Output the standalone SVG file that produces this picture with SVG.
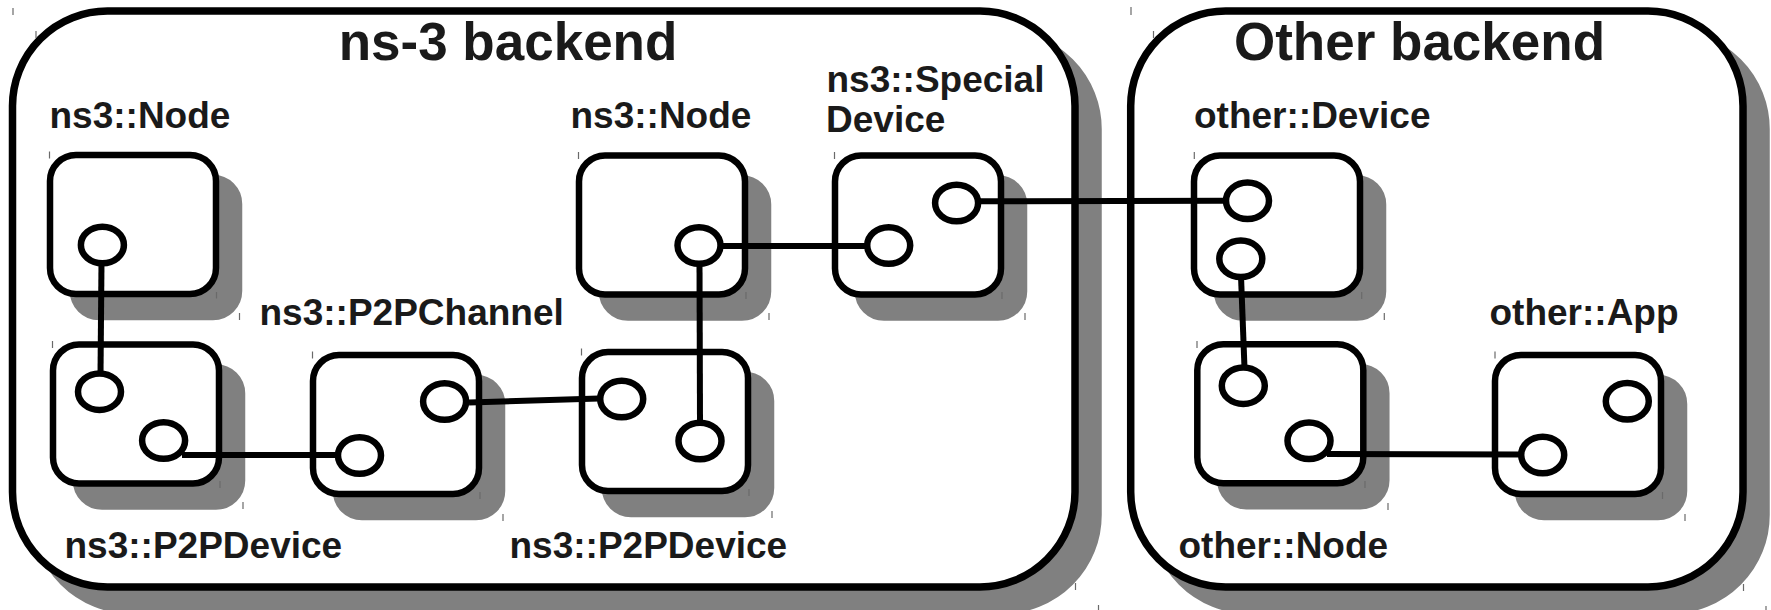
<svg xmlns="http://www.w3.org/2000/svg" width="1771" height="610" viewBox="0 0 1771 610">
  <style>
    .backend { fill: #ffffff; stroke: #000000; stroke-width: 7.5; }
    .backend-shadow { fill: #808080; stroke: #808080; stroke-width: 7.5; }
    .box { fill: #ffffff; stroke: #000000; stroke-width: 6.5; }
    .box-shadow { fill: #808080; stroke: #808080; stroke-width: 6.5; }
    .port { fill: #ffffff; stroke: #000000; stroke-width: 6.5; }
    .link { stroke: #000000; stroke-width: 6; fill: none; }
    .tick { stroke: #6a6a6a; stroke-width: 1.2; }
    .title { font-family: "Liberation Sans", Arial, sans-serif; font-weight: bold; font-size: 53px; fill: #1a1a1a; text-anchor: middle; }
    .label { font-family: "Liberation Sans", Arial, sans-serif; font-weight: bold; font-size: 37px; fill: #1a1a1a; }
  </style>
  <defs>
    <rect id="box-shape" x="0" y="0" width="166" height="139" rx="26" ry="26"/>
  </defs>

  <rect width="1771" height="610" fill="#ffffff"/>

  <!-- backend containers -->
  <g id="ns3-backend">
    <rect class="backend-shadow" x="35.5" y="34" width="1062.5" height="576" rx="95" ry="95"/>
    <rect class="backend" x="12.5" y="11" width="1062.5" height="576" rx="95" ry="95"/>
    <text class="title" x="508" y="60">ns-3 backend</text>
    <line class="tick" x1="13" y1="8" x2="13" y2="15"/>
    <line class="tick" x1="36" y1="31" x2="36" y2="38"/>
    <line class="tick" x1="1075.5" y1="583" x2="1075.5" y2="590"/>
    <line class="tick" x1="1098.5" y1="605" x2="1098.5" y2="610"/>
  </g>
  <g id="other-backend">
    <rect class="backend-shadow" x="1153.7" y="34" width="612.3" height="576" rx="95" ry="95"/>
    <rect class="backend" x="1130.7" y="11" width="612.3" height="576" rx="95" ry="95"/>
    <text class="title" x="1419.5" y="60">Other backend</text>
    <line class="tick" x1="1131" y1="7" x2="1131" y2="15"/>
    <line class="tick" x1="1153.5" y1="31" x2="1153.5" y2="38"/>
    <line class="tick" x1="1743.5" y1="584" x2="1743.5" y2="591"/>
    <line class="tick" x1="1766" y1="606" x2="1766" y2="610"/>
  </g>

  <!-- component boxes -->
  <g id="ns3-node-a">
    <use href="#box-shape" class="box-shadow" x="73" y="178"/>
    <use href="#box-shape" class="box" x="50" y="155"/>
    <text class="label" x="49.5" y="128">ns3::Node</text>
    <line class="tick" x1="49.5" y1="151.5" x2="49.5" y2="158.5"/>
    <line class="tick" x1="216.5" y1="292" x2="216.5" y2="298.5"/>
    <line class="tick" x1="239.5" y1="313" x2="239.5" y2="320"/>
  </g>
  <g id="ns3-p2pdevice-a">
    <use href="#box-shape" class="box-shadow" x="76" y="367.5"/>
    <use href="#box-shape" class="box" x="53" y="344.5"/>
    <text class="label" x="64.5" y="558">ns3::P2PDevice</text>
    <line class="tick" x1="52.5" y1="341" x2="52.5" y2="348"/>
    <line class="tick" x1="220" y1="481" x2="220" y2="488"/>
    <line class="tick" x1="243" y1="502" x2="243" y2="509"/>
  </g>
  <g id="ns3-p2pchannel">
    <use href="#box-shape" class="box-shadow" x="336" y="378"/>
    <use href="#box-shape" class="box" x="313" y="355"/>
    <text class="label" x="259.5" y="325">ns3::P2PChannel</text>
    <line class="tick" x1="312.5" y1="351.5" x2="312.5" y2="358.5"/>
    <line class="tick" x1="480" y1="492" x2="480" y2="499"/>
    <line class="tick" x1="503" y1="514" x2="503" y2="521"/>
  </g>
  <g id="ns3-node-b">
    <use href="#box-shape" class="box-shadow" x="602" y="178.5"/>
    <use href="#box-shape" class="box" x="579" y="155.5"/>
    <text class="label" x="570.5" y="128">ns3::Node</text>
    <line class="tick" x1="578.5" y1="152" x2="578.5" y2="159"/>
    <line class="tick" x1="746" y1="292" x2="746" y2="299"/>
    <line class="tick" x1="769" y1="313" x2="769" y2="320"/>
  </g>
  <g id="ns3-special-device">
    <use href="#box-shape" class="box-shadow" x="858" y="178.5"/>
    <use href="#box-shape" class="box" x="835" y="155.5"/>
    <text class="label" x="826.5" y="92">ns3::Special</text>
    <text class="label" x="826" y="132">Device</text>
    <line class="tick" x1="834.5" y1="152" x2="834.5" y2="159"/>
    <line class="tick" x1="1002" y1="292" x2="1002" y2="299"/>
    <line class="tick" x1="1025" y1="313" x2="1025" y2="320"/>
  </g>
  <g id="ns3-p2pdevice-b">
    <use href="#box-shape" class="box-shadow" x="605" y="375"/>
    <use href="#box-shape" class="box" x="582" y="352"/>
    <text class="label" x="509.5" y="558">ns3::P2PDevice</text>
    <line class="tick" x1="581.5" y1="348.5" x2="581.5" y2="355.5"/>
    <line class="tick" x1="749" y1="489" x2="749" y2="496"/>
    <line class="tick" x1="772" y1="511" x2="772" y2="518"/>
  </g>
  <g id="other-device">
    <use href="#box-shape" class="box-shadow" x="1217" y="178.5"/>
    <use href="#box-shape" class="box" x="1194" y="155.5"/>
    <text class="label" x="1194" y="128.3">other::Device</text>
    <line class="tick" x1="1194.3" y1="152" x2="1194.3" y2="159"/>
    <line class="tick" x1="1361.7" y1="292" x2="1361.7" y2="299"/>
    <line class="tick" x1="1384.3" y1="313" x2="1384.3" y2="320"/>
  </g>
  <g id="other-node">
    <use href="#box-shape" class="box-shadow" x="1220.3" y="367.2"/>
    <use href="#box-shape" class="box" x="1197.3" y="344.2"/>
    <text class="label" x="1178.5" y="558">other::Node</text>
    <line class="tick" x1="1197" y1="341" x2="1197" y2="348"/>
    <line class="tick" x1="1365" y1="481" x2="1365" y2="488"/>
    <line class="tick" x1="1388" y1="503" x2="1388" y2="510"/>
  </g>
  <g id="other-app">
    <use href="#box-shape" class="box-shadow" x="1518" y="378"/>
    <use href="#box-shape" class="box" x="1495" y="355"/>
    <text class="label" x="1489.5" y="325">other::App</text>
    <line class="tick" x1="1495" y1="351.5" x2="1495" y2="358.5"/>
    <line class="tick" x1="1662.5" y1="492" x2="1662.5" y2="499"/>
    <line class="tick" x1="1685" y1="514" x2="1685" y2="521"/>
  </g>

  <!-- connectors -->
  <g id="connectors">
    <line class="link" x1="101.5" y1="262" x2="100.5" y2="374"/>
    <line class="link" x1="182" y1="455" x2="341" y2="455"/>
    <line class="link" x1="469" y1="402.5" x2="599" y2="398.5"/>
    <line class="link" x1="699.5" y1="262" x2="700" y2="424"/>
    <line class="link" x1="722" y1="246" x2="867" y2="246"/>
    <line class="link" x1="978" y1="201.3" x2="1225" y2="200.8"/>
    <line class="link" x1="1241" y1="276" x2="1244.5" y2="368"/>
    <line class="link" x1="1327" y1="454" x2="1521" y2="454.5"/>
  </g>

  <!-- ports -->
  <g id="ports">
    <ellipse class="port" cx="102.4" cy="245" rx="21.5" ry="18.3"/>
    <ellipse class="port" cx="99.5" cy="391.7" rx="21.5" ry="18.3"/>
    <ellipse class="port" cx="163.6" cy="440.5" rx="21.5" ry="18.3"/>
    <ellipse class="port" cx="359.5" cy="455.5" rx="21.5" ry="18.3"/>
    <ellipse class="port" cx="444.6" cy="401.5" rx="21.5" ry="18.3"/>
    <ellipse class="port" cx="699" cy="245.5" rx="21.5" ry="18.3"/>
    <ellipse class="port" cx="621.7" cy="399" rx="21.5" ry="18.3"/>
    <ellipse class="port" cx="700" cy="441" rx="21.5" ry="18.3"/>
    <ellipse class="port" cx="888.7" cy="245.5" rx="21.5" ry="18.3"/>
    <ellipse class="port" cx="956.6" cy="203" rx="21.5" ry="18.3"/>
    <ellipse class="port" cx="1247.5" cy="200.8" rx="21.5" ry="18.3"/>
    <ellipse class="port" cx="1240.8" cy="258.8" rx="21.5" ry="18.3"/>
    <ellipse class="port" cx="1243.3" cy="385.7" rx="21.5" ry="18.3"/>
    <ellipse class="port" cx="1309" cy="440.8" rx="21.5" ry="18.3"/>
    <ellipse class="port" cx="1542.7" cy="455" rx="21.5" ry="18.3"/>
    <ellipse class="port" cx="1627.3" cy="401.3" rx="21.5" ry="18.3"/>
  </g>
</svg>
